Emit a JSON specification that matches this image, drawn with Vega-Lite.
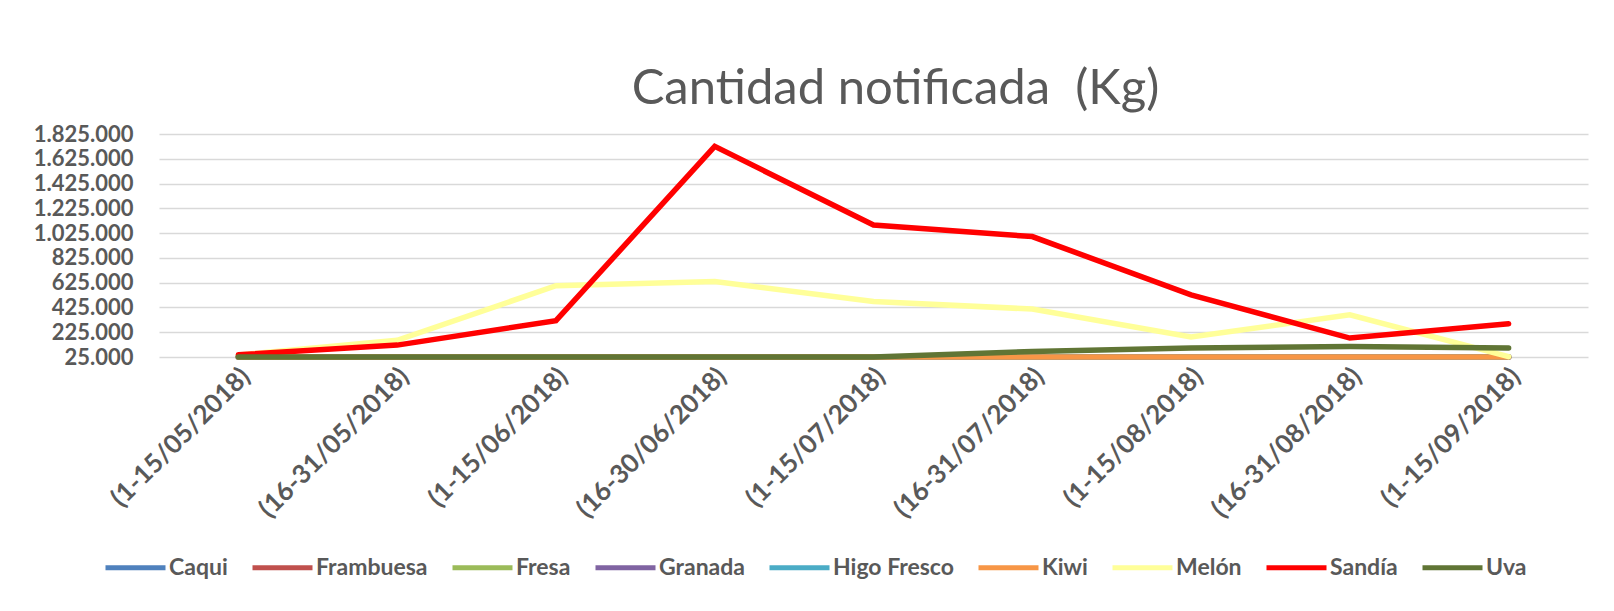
{
  "$schema": "https://vega.github.io/schema/vega-lite/v6.json",
  "autosize": {"type": "none"},
  "padding": {"left": 159, "top": 134, "right": 26, "bottom": 254},
  "width": 1429,
  "height": 223,
  "background": "white",
  "title": {
    "text": "Cantidad notificada \u00a0(Kg)",
    "font": "Lato",
    "fontSize": 49,
    "fontWeight": "normal",
    "color": "#595959",
    "anchor": "middle",
    "baseline": "alphabetic",
    "dx": 22,
    "offset": -30
  },
  "data": {
    "values": [
      {"periodo": "(1-15/05/2018)", "producto": "Caqui", "kg": 0},
      {"periodo": "(16-31/05/2018)", "producto": "Caqui", "kg": 0},
      {"periodo": "(1-15/06/2018)", "producto": "Caqui", "kg": 0},
      {"periodo": "(16-30/06/2018)", "producto": "Caqui", "kg": 0},
      {"periodo": "(1-15/07/2018)", "producto": "Caqui", "kg": 0},
      {"periodo": "(16-31/07/2018)", "producto": "Caqui", "kg": 0},
      {"periodo": "(1-15/08/2018)", "producto": "Caqui", "kg": 0},
      {"periodo": "(16-31/08/2018)", "producto": "Caqui", "kg": 1000},
      {"periodo": "(1-15/09/2018)", "producto": "Caqui", "kg": 2000},
      {"periodo": "(1-15/05/2018)", "producto": "Frambuesa", "kg": 1000},
      {"periodo": "(16-31/05/2018)", "producto": "Frambuesa", "kg": 1000},
      {"periodo": "(1-15/06/2018)", "producto": "Frambuesa", "kg": 1000},
      {"periodo": "(16-30/06/2018)", "producto": "Frambuesa", "kg": 500},
      {"periodo": "(1-15/07/2018)", "producto": "Frambuesa", "kg": 500},
      {"periodo": "(16-31/07/2018)", "producto": "Frambuesa", "kg": 500},
      {"periodo": "(1-15/08/2018)", "producto": "Frambuesa", "kg": 500},
      {"periodo": "(16-31/08/2018)", "producto": "Frambuesa", "kg": 500},
      {"periodo": "(1-15/09/2018)", "producto": "Frambuesa", "kg": 500},
      {"periodo": "(1-15/05/2018)", "producto": "Fresa", "kg": 3000},
      {"periodo": "(16-31/05/2018)", "producto": "Fresa", "kg": 2000},
      {"periodo": "(1-15/06/2018)", "producto": "Fresa", "kg": 1000},
      {"periodo": "(16-30/06/2018)", "producto": "Fresa", "kg": 0},
      {"periodo": "(1-15/07/2018)", "producto": "Fresa", "kg": 0},
      {"periodo": "(16-31/07/2018)", "producto": "Fresa", "kg": 0},
      {"periodo": "(1-15/08/2018)", "producto": "Fresa", "kg": 0},
      {"periodo": "(16-31/08/2018)", "producto": "Fresa", "kg": 0},
      {"periodo": "(1-15/09/2018)", "producto": "Fresa", "kg": 0},
      {"periodo": "(1-15/05/2018)", "producto": "Granada", "kg": 0},
      {"periodo": "(16-31/05/2018)", "producto": "Granada", "kg": 0},
      {"periodo": "(1-15/06/2018)", "producto": "Granada", "kg": 0},
      {"periodo": "(16-30/06/2018)", "producto": "Granada", "kg": 0},
      {"periodo": "(1-15/07/2018)", "producto": "Granada", "kg": 0},
      {"periodo": "(16-31/07/2018)", "producto": "Granada", "kg": 0},
      {"periodo": "(1-15/08/2018)", "producto": "Granada", "kg": 0},
      {"periodo": "(16-31/08/2018)", "producto": "Granada", "kg": 1000},
      {"periodo": "(1-15/09/2018)", "producto": "Granada", "kg": 2000},
      {"periodo": "(1-15/05/2018)", "producto": "Higo Fresco", "kg": 0},
      {"periodo": "(16-31/05/2018)", "producto": "Higo Fresco", "kg": 0},
      {"periodo": "(1-15/06/2018)", "producto": "Higo Fresco", "kg": 0},
      {"periodo": "(16-30/06/2018)", "producto": "Higo Fresco", "kg": 500},
      {"periodo": "(1-15/07/2018)", "producto": "Higo Fresco", "kg": 1000},
      {"periodo": "(16-31/07/2018)", "producto": "Higo Fresco", "kg": 2000},
      {"periodo": "(1-15/08/2018)", "producto": "Higo Fresco", "kg": 3000},
      {"periodo": "(16-31/08/2018)", "producto": "Higo Fresco", "kg": 2000},
      {"periodo": "(1-15/09/2018)", "producto": "Higo Fresco", "kg": 1000},
      {"periodo": "(1-15/05/2018)", "producto": "Kiwi", "kg": 2000},
      {"periodo": "(16-31/05/2018)", "producto": "Kiwi", "kg": 2000},
      {"periodo": "(1-15/06/2018)", "producto": "Kiwi", "kg": 1000},
      {"periodo": "(16-30/06/2018)", "producto": "Kiwi", "kg": 1000},
      {"periodo": "(1-15/07/2018)", "producto": "Kiwi", "kg": 2000},
      {"periodo": "(16-31/07/2018)", "producto": "Kiwi", "kg": 4000},
      {"periodo": "(1-15/08/2018)", "producto": "Kiwi", "kg": 5000},
      {"periodo": "(16-31/08/2018)", "producto": "Kiwi", "kg": 6000},
      {"periodo": "(1-15/09/2018)", "producto": "Kiwi", "kg": 8000},
      {"periodo": "(1-15/05/2018)", "producto": "Melón", "kg": 42000},
      {"periodo": "(16-31/05/2018)", "producto": "Melón", "kg": 160000},
      {"periodo": "(1-15/06/2018)", "producto": "Melón", "kg": 600000},
      {"periodo": "(16-30/06/2018)", "producto": "Melón", "kg": 634000},
      {"periodo": "(1-15/07/2018)", "producto": "Melón", "kg": 473000},
      {"periodo": "(16-31/07/2018)", "producto": "Melón", "kg": 412000},
      {"periodo": "(1-15/08/2018)", "producto": "Melón", "kg": 186000},
      {"periodo": "(16-31/08/2018)", "producto": "Melón", "kg": 366000},
      {"periodo": "(1-15/09/2018)", "producto": "Melón", "kg": 28000},
      {"periodo": "(1-15/05/2018)", "producto": "Sandía", "kg": 43000},
      {"periodo": "(16-31/05/2018)", "producto": "Sandía", "kg": 121000},
      {"periodo": "(1-15/06/2018)", "producto": "Sandía", "kg": 318000},
      {"periodo": "(16-30/06/2018)", "producto": "Sandía", "kg": 1725000},
      {"periodo": "(1-15/07/2018)", "producto": "Sandía", "kg": 1090000},
      {"periodo": "(16-31/07/2018)", "producto": "Sandía", "kg": 997000},
      {"periodo": "(1-15/08/2018)", "producto": "Sandía", "kg": 527000},
      {"periodo": "(16-31/08/2018)", "producto": "Sandía", "kg": 178000},
      {"periodo": "(1-15/09/2018)", "producto": "Sandía", "kg": 293000},
      {"periodo": "(1-15/05/2018)", "producto": "Uva", "kg": 20000},
      {"periodo": "(16-31/05/2018)", "producto": "Uva", "kg": 18000},
      {"periodo": "(1-15/06/2018)", "producto": "Uva", "kg": 15000},
      {"periodo": "(16-30/06/2018)", "producto": "Uva", "kg": 15000},
      {"periodo": "(1-15/07/2018)", "producto": "Uva", "kg": 20000},
      {"periodo": "(16-31/07/2018)", "producto": "Uva", "kg": 70000},
      {"periodo": "(1-15/08/2018)", "producto": "Uva", "kg": 97000},
      {"periodo": "(16-31/08/2018)", "producto": "Uva", "kg": 109000},
      {"periodo": "(1-15/09/2018)", "producto": "Uva", "kg": 97000}
    ]
  },
  "mark": {"type": "line", "strokeWidth": 5.5, "strokeCap": "round"},
  "encoding": {
    "x": {
      "field": "periodo",
      "type": "nominal",
      "sort": null,
      "scale": {"type": "point", "padding": 0.5},
      "axis": {
        "title": null,
        "labelAngle": -45,
        "labelAlign": "right",
        "labelBaseline": "middle",
        "labelFont": "Lato",
        "labelFontSize": 26,
        "labelFontWeight": "bold",
        "labelColor": "#595959",
        "labelPadding": 15,
        "labelOffset": 7,
        "labelLimit": 400,
        "ticks": false,
        "tickSize": 0,
        "domain": false,
        "grid": false,
        "labelOverlap": false
      }
    },
    "y": {
      "field": "kg",
      "type": "quantitative",
      "scale": {"domain": [25000, 1825000], "clamp": true, "nice": false, "zero": false},
      "axis": {
        "title": null,
        "values": [25000, 225000, 425000, 625000, 825000, 1025000, 1225000, 1425000, 1625000, 1825000],
        "format": ",d",
        "labelFont": "Lato",
        "labelFontSize": 22,
        "labelFontWeight": "bold",
        "labelColor": "#595959",
        "labelPadding": 26,
        "ticks": false,
        "tickSize": 0,
        "domain": false,
        "grid": true,
        "gridColor": "#d9d9d9",
        "gridWidth": 1.5,
        "labelOverlap": false
      }
    },
    "color": {
      "field": "producto",
      "type": "nominal",
      "scale": {
        "domain": ["Caqui", "Frambuesa", "Fresa", "Granada", "Higo Fresco", "Kiwi", "Melón", "Sandía", "Uva"],
        "range": ["#4f81bd", "#c0504d", "#9bbb59", "#8064a2", "#4bacc6", "#f79646", "#ffff99", "#ff0000", "#607535"]
      },
      "legend": {
        "title": null,
        "orient": "none",
        "direction": "horizontal",
        "legendX": -56,
        "legendY": 401,
        "symbolType": "stroke",
        "symbolSize": 3600,
        "symbolStrokeWidth": 5,
        "labelFont": "Lato",
        "labelFontSize": 23,
        "labelFontWeight": "bold",
        "labelColor": "#595959",
        "labelOffset": 1,
        "columnPadding": 14,
        "labelLimit": 400
      }
    }
  },
  "config": {
    "view": {"stroke": null},
    "locale": {
      "number": {"decimal": ",", "thousands": ".", "grouping": [3], "currency": ["", " €"]}
    }
  }
}
